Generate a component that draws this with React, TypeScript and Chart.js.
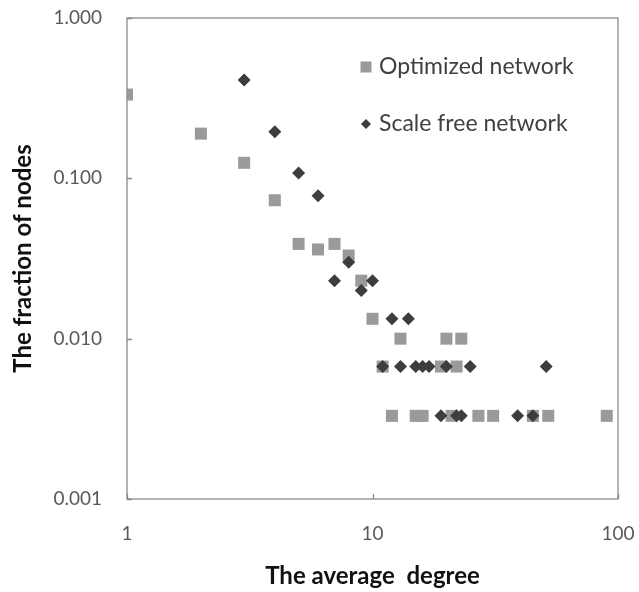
import React, { useEffect, useRef } from "react";
import { Chart, registerables } from "chart.js";

Chart.register(...registerables);

const optimizedDegree = [1, 2, 3, 4, 5, 6, 7, 8, 9, 10, 11, 12, 13, 15, 16, 19, 20, 21, 22, 23, 27, 31, 45, 52, 90];
const optimizedFraction = [0.333, 0.19, 0.125, 0.073, 0.039, 0.036, 0.039, 0.033, 0.023, 0.0133, 0.0067, 0.0033, 0.01, 0.0033, 0.0033, 0.0067, 0.01, 0.0033, 0.0067, 0.01, 0.0033, 0.0033, 0.0033, 0.0033, 0.0033];

const scaleFreeDegree = [3, 4, 5, 6, 7, 8, 9, 10, 11, 12, 13, 14, 15, 16, 17, 19, 20, 22, 23, 25, 39, 45, 51];
const scaleFreeFraction = [0.41, 0.195, 0.108, 0.078, 0.023, 0.03, 0.02, 0.023, 0.0067, 0.0133, 0.0067, 0.0133, 0.0067, 0.0067, 0.0067, 0.0033, 0.0067, 0.0033, 0.0033, 0.0067, 0.0033, 0.0033, 0.0067];

const seriesLabels = ["Optimized network", "Scale free network"];
const xTickValues = [1, 10, 100];
const yTickValues = [0.001, 0.01, 0.1, 1];
const xTitle = "The average  degree";
const yTitle = "The fraction of nodes";

const FONT = "Lato, 'Liberation Sans', sans-serif";
const AXIS_COLOR = "#8a8a8a";

const frameAndTicks = {
  id: "frameAndTicks",
  afterDatasetsDraw(chart: any) {
    const { ctx, chartArea } = chart;
    const { left, right, top, bottom } = chartArea;
    ctx.save();
    ctx.strokeStyle = AXIS_COLOR;
    ctx.lineWidth = 1.3;
    ctx.strokeRect(left, top, right - left, bottom - top);
    ctx.beginPath();
    const xs = chart.scales.x;
    const ys = chart.scales.y;
    for (const v of xTickValues) {
      const px = Math.round(xs.getPixelForValue(v)) + 0.5;
      ctx.moveTo(px, bottom);
      ctx.lineTo(px, bottom - 5);
    }
    for (const v of yTickValues) {
      const py = Math.round(ys.getPixelForValue(v)) + 0.5;
      ctx.moveTo(left, py);
      ctx.lineTo(left + 5, py);
    }
    ctx.stroke();
    ctx.restore();
  },
};

const insideLegend = {
  id: "insideLegend",
  afterDraw(chart: any) {
    const { ctx } = chart;
    const rows = [67, 124];
    const markerX = 366;
    ctx.save();
    ctx.font = `23px ${FONT}`;
    ctx.textBaseline = "middle";
    ctx.textAlign = "left";
    chart.data.datasets.forEach((ds: any, i: number) => {
      const y = rows[i];
      ctx.fillStyle = ds.backgroundColor;
      if (ds.pointStyle === "rect") {
        ctx.fillRect(markerX - 5.5, y - 5.5, 11, 11);
      } else {
        ctx.beginPath();
        ctx.moveTo(markerX - 5, y);
        ctx.lineTo(markerX, y - 5);
        ctx.lineTo(markerX + 5, y);
        ctx.lineTo(markerX, y + 5);
        ctx.closePath();
        ctx.fill();
      }
      ctx.fillStyle = "#404040";
      ctx.fillText(ds.label, 379, y);
    });
    ctx.restore();
  },
};

export default function App() {
  const ref = useRef<HTMLCanvasElement>(null);

  useEffect(() => {
    if (!ref.current) return;
    const chart = new Chart(ref.current, {
      type: "scatter",
      data: {
        datasets: [
          {
            label: seriesLabels[0],
            data: optimizedDegree.map((x, i) => ({ x, y: optimizedFraction[i] })),
            backgroundColor: "#9a9a9a",
            borderWidth: 0,
            pointStyle: "rect",
            pointRadius: 8.5,
            order: 1,
          },
          {
            label: seriesLabels[1],
            data: scaleFreeDegree.map((x, i) => ({ x, y: scaleFreeFraction[i] })),
            backgroundColor: "#3d3d3d",
            borderWidth: 0,
            pointStyle: "rectRot",
            pointRadius: 6.5,
            order: 0,
          },
        ],
      },
      options: {
        responsive: false,
        animation: false,
        layout: { padding: { top: 18, right: 21, left: 0, bottom: 0 } },
        plugins: { legend: { display: false }, tooltip: { enabled: false } },
        scales: {
          x: {
            type: "logarithmic",
            min: 1,
            max: 100,
            afterBuildTicks: (s: any) => {
              s.ticks = xTickValues.map((v) => ({ value: v }));
            },
            afterFit: (s: any) => {
              s.height = 93;
              s.paddingLeft = 0;
              s.paddingRight = 0;
            },
            ticks: {
              color: "#595959",
              font: { family: FONT, size: 19 },
              padding: 23,
              maxRotation: 0,
              callback: (v: any) => String(v),
            },
            grid: { display: false, drawTicks: false },
            border: { display: false },
            title: {
              display: true,
              text: xTitle,
              color: "#111",
              font: { family: FONT, size: 24, weight: "bold" },
              padding: { top: 0, bottom: 1 },
            },
          },
          y: {
            type: "logarithmic",
            min: 0.001,
            max: 1,
            afterBuildTicks: (s: any) => {
              s.ticks = yTickValues.map((v) => ({ value: v }));
            },
            afterFit: (s: any) => {
              s.width = 127;
              s.paddingTop = 0;
              s.paddingBottom = 0;
            },
            ticks: {
              color: "#595959",
              font: { family: FONT, size: 19 },
              padding: 25,
              callback: (v: any) => Number(v).toFixed(3),
            },
            grid: { display: false, drawTicks: false },
            border: { display: false },
            title: {
              display: true,
              text: yTitle,
              color: "#111",
              font: { family: FONT, size: 24, weight: "bold" },
              padding: { top: 9, bottom: 0 },
            },
          },
        },
      },
      plugins: [frameAndTicks, insideLegend],
    });
    return () => chart.destroy();
  }, []);

  return (
    <canvas
      ref={ref}
      width={639}
      height={592}
      style={{ position: "absolute", left: 0, top: 0, display: "block", background: "#fff" }}
    />
  );
}
